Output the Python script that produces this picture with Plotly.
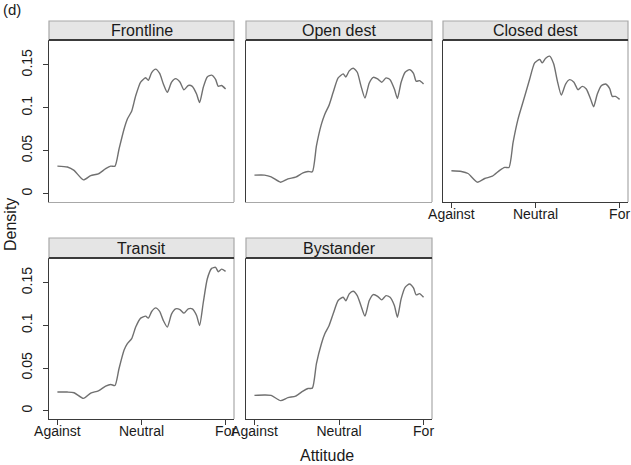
import plotly.graph_objects as go

# ---- data ----
attitude = [-1.000, -0.881, -0.802, -0.691, -0.604, -0.513, -0.426, -0.366, -0.315, -0.267,
            -0.208, -0.168, -0.117, -0.069, -0.010, 0.050, 0.081, 0.121, 0.168, 0.216,
            0.259, 0.307, 0.358, 0.406, 0.457, 0.505, 0.556, 0.604, 0.655, 0.691,
            0.735, 0.782, 0.834, 0.881, 0.913, 0.952, 1.000]

frontline = [0.032, 0.031, 0.027, 0.016, 0.021, 0.023, 0.029, 0.032, 0.032, 0.052,
             0.075, 0.087, 0.096, 0.114, 0.130, 0.135, 0.132, 0.141, 0.145, 0.140,
             0.128, 0.118, 0.130, 0.134, 0.130, 0.121, 0.126, 0.125, 0.116, 0.106,
             0.124, 0.136, 0.138, 0.133, 0.125, 0.126, 0.122]

open_dest = [0.0215, 0.0215, 0.0195, 0.0133, 0.0172, 0.0191, 0.0242, 0.0258, 0.0254, 0.0555,
             0.0809, 0.0926, 0.1031, 0.1180, 0.1348, 0.1395, 0.1359, 0.1430, 0.1461, 0.1414,
             0.1258, 0.1113, 0.1289, 0.1355, 0.1336, 0.1297, 0.1348, 0.1328, 0.1219, 0.1109,
             0.1297, 0.1414, 0.1445, 0.1402, 0.1309, 0.1316, 0.1277]

closed_dest = [0.0266, 0.0258, 0.0234, 0.0133, 0.0176, 0.0203, 0.0270, 0.0305, 0.0305, 0.0594,
               0.0867, 0.1004, 0.1172, 0.1336, 0.1523, 0.1563, 0.1523, 0.1578, 0.1602, 0.1512,
               0.1316, 0.1148, 0.1277, 0.1328, 0.1297, 0.1211, 0.1250, 0.1219, 0.1102, 0.1012,
               0.1160, 0.1258, 0.1277, 0.1227, 0.1133, 0.1133, 0.1098]

transit = [0.0218, 0.0218, 0.0210, 0.0144, 0.0206, 0.0233, 0.0288, 0.0307, 0.0295, 0.0494,
           0.0708, 0.0785, 0.0844, 0.0980, 0.1085, 0.1108, 0.1085, 0.1163, 0.1205, 0.1163,
           0.1058, 0.0980, 0.1135, 0.1194, 0.1186, 0.1143, 0.1194, 0.1194, 0.1116, 0.0999,
           0.1271, 0.1544, 0.1668, 0.1680, 0.1629, 0.1660, 0.1633]

bystander = [0.0179, 0.0183, 0.0179, 0.0117, 0.0152, 0.0171, 0.0229, 0.0260, 0.0264, 0.0552,
             0.0785, 0.0902, 0.0999, 0.1135, 0.1291, 0.1330, 0.1287, 0.1369, 0.1400, 0.1349,
             0.1233, 0.1108, 0.1291, 0.1361, 0.1341, 0.1299, 0.1349, 0.1330, 0.1233, 0.1096,
             0.1310, 0.1446, 0.1485, 0.1439, 0.1357, 0.1372, 0.1330]

x_tickvals = [-1, 0, 1]
x_ticktext = ["Against", "Neutral", "For"]
y_tickvals = [0, 0.05, 0.1, 0.15]
y_ticktext = ["0", "0.05", "0.1", "0.15"]

panels = [
    ("Frontline", frontline, 0, 0),
    ("Open dest", open_dest, 0, 1),
    ("Closed dest", closed_dest, 0, 2),
    ("Transit", transit, 1, 0),
    ("Bystander", bystander, 1, 1),
]

# ---- layout geometry (pixels) ----
W, H = 631, 465
col_px = [(49, 234), (246, 432), (443, 628)]
row_px = [(40, 202), (258, 419)]
strip_px = [(21, 40), (238, 258)]

def px_x(p):
    return p / W

def px_y(p):
    return 1 - p / H

FONT = "Liberation Sans, Arial, sans-serif"
DARK = "#3a3a3a"
LIGHT = "#a8a8a8"
TXT = "#1a1a1a"

fig = go.Figure()
layout = dict(
    template="none",
    width=W, height=H, autosize=False,
    margin=dict(l=0, r=0, t=0, b=0, pad=0),
    paper_bgcolor="white", plot_bgcolor="white",
    showlegend=False,
    font=dict(family=FONT, size=14, color=TXT),
)
shapes = []
annotations = []

for i, (name, vals, r, c) in enumerate(panels, start=1):
    xa = "xaxis" if i == 1 else f"xaxis{i}"
    ya = "yaxis" if i == 1 else f"yaxis{i}"
    xr = "x" if i == 1 else f"x{i}"
    yr = "y" if i == 1 else f"y{i}"
    fig.add_trace(go.Scatter(
        x=attitude, y=vals, mode="lines", xaxis=xr, yaxis=yr,
        line=dict(color="#707070", width=1.4, shape="spline", smoothing=0.6),
        hoverinfo="skip",
    ))
    x0, x1 = col_px[c]
    y0, y1 = row_px[r]
    show_x = (name in ("Closed dest", "Transit", "Bystander"))
    show_y = (c == 0)
    layout[xa] = dict(
        domain=[px_x(x0), px_x(x1)], anchor=yr, range=[-1.1, 1.1],
        automargin=False,
        showgrid=False, zeroline=False, showline=True,
        linecolor=DARK if show_x else LIGHT, linewidth=1.2,
        tickvals=x_tickvals, ticktext=x_ticktext,
        ticks="outside" if show_x else "", ticklen=5, tickcolor=DARK, tickwidth=1,
        ticklabelstandoff=-6,
        showticklabels=show_x, tickfont=dict(size=14, color=TXT, family=FONT),
        fixedrange=True,
    )
    layout[ya] = dict(
        domain=[px_y(y1), px_y(y0)], anchor=xr, range=[-0.0098, 0.179],
        automargin=False,
        showgrid=False, zeroline=False, showline=True,
        linecolor=DARK, linewidth=1.2,
        tickvals=y_tickvals, ticktext=y_ticktext,
        ticks="outside" if show_y else "", ticklen=5, tickcolor=DARK, tickwidth=1,
        ticklabelstandoff=5,
        showticklabels=show_y, tickangle=-90, tickfont=dict(size=14, color=TXT, family=FONT),
        fixedrange=True,
    )
    # right border (light)
    shapes.append(dict(type="line", xref="paper", yref="paper",
                       x0=px_x(x1), x1=px_x(x1), y0=px_y(y1), y1=px_y(y0),
                       line=dict(color=LIGHT, width=1.2)))
    # strip
    s0, s1 = strip_px[r]
    shapes.append(dict(type="rect", xref="paper", yref="paper",
                       x0=px_x(x0), x1=px_x(x1), y0=px_y(s1), y1=px_y(s0),
                       fillcolor="#e5e5e5", line=dict(color=LIGHT, width=1.2)))
    shapes.append(dict(type="line", xref="paper", yref="paper",
                       x0=px_x(x0), x1=px_x(x1), y0=px_y(s1), y1=px_y(s1),
                       line=dict(color=DARK, width=2)))
    annotations.append(dict(text=name, xref="paper", yref="paper",
                            x=px_x((x0 + x1) / 2), y=px_y((s0 + s1) / 2 + 0.5),
                            xanchor="center", yanchor="middle", showarrow=False,
                            font=dict(size=16, color=TXT)))

annotations.append(dict(text="Density", xref="paper", yref="paper",
                        x=px_x(10), y=px_y(225), textangle=-90,
                        xanchor="center", yanchor="middle", showarrow=False,
                        font=dict(size=16, color=TXT)))
annotations.append(dict(text="Attitude", xref="paper", yref="paper",
                        x=px_x(327), y=px_y(455),
                        xanchor="center", yanchor="middle", showarrow=False,
                        font=dict(size=16, color=TXT)))
annotations.append(dict(text="(d)", xref="paper", yref="paper",
                        x=px_x(1), y=px_y(10),
                        xanchor="left", yanchor="middle", showarrow=False,
                        font=dict(size=15, color=TXT)))

layout["shapes"] = shapes
layout["annotations"] = annotations
fig.update_layout(**layout)
fig.write_html(
    "out.html",
    config={"displayModeBar": False},
    post_script="document.body.style.margin='0';document.body.style.padding='0';document.body.style.overflow='hidden';",
)
